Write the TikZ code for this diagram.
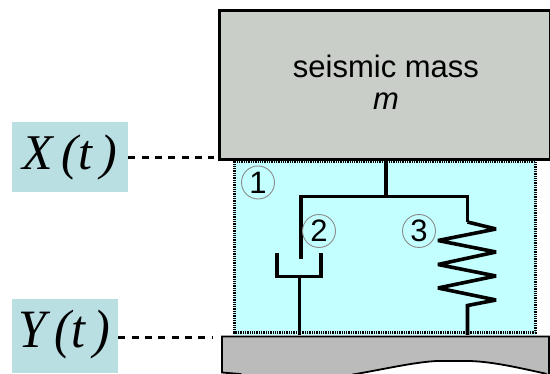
\documentclass[tikz,border=0pt]{standalone}
\usepackage{fontspec}
\setmainfont{Liberation Sans}
\newfontfamily\serifface{Liberation Serif}
\definecolor{massgray}{HTML}{C9CEC8}
\definecolor{basegray}{HTML}{BBBBBB}
\definecolor{springcyan}{HTML}{C4FFFF}
\definecolor{labelblue}{HTML}{B9DFE3}
\definecolor{ringgray}{HTML}{8A8A8A}
\tikzset{
  bar/.style={draw=black,line width=3.6pt,line join=miter},
  thinbar/.style={draw=black,line width=3.2pt,line join=miter},
  leader/.style={draw=black,line width=2.6pt,dash pattern=on 7pt off 6.3pt},
  symbox/.style={fill=labelblue,inner sep=0pt},
  symtext/.style={font=\serifface\itshape\fontsize{50}{50}\selectfont},
  tag/.style={circle,draw=ringgray,line width=0.9pt,minimum size=33pt,inner sep=0pt,font=\fontsize{31}{31}\selectfont},
}
\begin{document}
\begin{tikzpicture}[x=1pt,y=-1pt]
\useasboundingbox (0,0) rectangle (550,374);
% cyan region
\path[fill=springcyan] (234,159) rectangle (536,335);
\draw[draw=black,line width=3pt,dash pattern=on 1.3pt off 1pt] (234.5,161.5) -- (535.5,161.5) -- (535.5,332.5) -- (234.5,332.5) -- cycle;
% mass
\node[draw=black,line width=3pt,fill=massgray,minimum width=331pt,minimum height=149pt,inner sep=0pt,anchor=north west] (mass) at (218,9.5) {};
\node[font=\fontsize{31}{31}\selectfont] (masstext) at (386,66) {seismic mass};
\node[font=\itshape\fontsize{31}{31}\selectfont] (masssym) at (386,101) {m};
% base
\path[fill=basegray,draw=black,line width=1.8pt] (222,336.5) -- (549,336.5) -- (549,376)
  -- (545,373.5) .. controls (520,368) and (490,361) .. (467,361) -- (437,361) .. controls (415,362) and (385,369) .. (353,374.5)
  -- (353,378) -- (250,378) -- (240,374) -- (222,372.5) -- cycle;
% labels
\node[symbox,anchor=north west,minimum width=116pt,minimum height=70pt] (xl) at (12,122) {};
\node[symtext] (xtext) at (70,157) {X\,(t\,)};
\node[symbox,anchor=north west,minimum width=106pt,minimum height=74pt] (yl) at (12,299) {};
\node[symtext,yscale=1.08,transform shape] (ytext) at (64.5,335) {Y\,(t\,)};
\coordinate (xe) at (214,157.7);
\coordinate (ye) at (212,337.7);
\draw[leader] (xl.east |- xe) -- (xe);
\draw[leader] (yl.east |- ye) -- (ye);
% frame
\coordinate (top) at (386,158);
\coordinate (tj) at (386,196.7);
\coordinate (dl) at (300.7,196.7);
\coordinate (sr) at (467.5,196.7);
\draw[thinbar] (top) -- (tj);
\draw[bar] (300.7,259) -- (dl) -- (sr) -- (467.5,222);
% damper
\draw[bar] (276.7,253) -- (276.7,276.7) -- (321,276.7) -- (321,253);
\draw[thinbar] (299.5,276.7) -- (299.5,335);
% spring
\draw[bar,miter limit=2] (467.5,222) -- (496,229) -- (438,240.5) -- (496,252) -- (438,264.5) -- (496,276) -- (438,288) -- (496,300) -- (467.5,305.5) -- (467.5,335);
% tags
\node[tag] (t1) at (258,182.5) {1};
\node[tag] (t2) at (319,231) {2};
\node[tag] (t3) at (419,231) {3};
\end{tikzpicture}
\end{document}
